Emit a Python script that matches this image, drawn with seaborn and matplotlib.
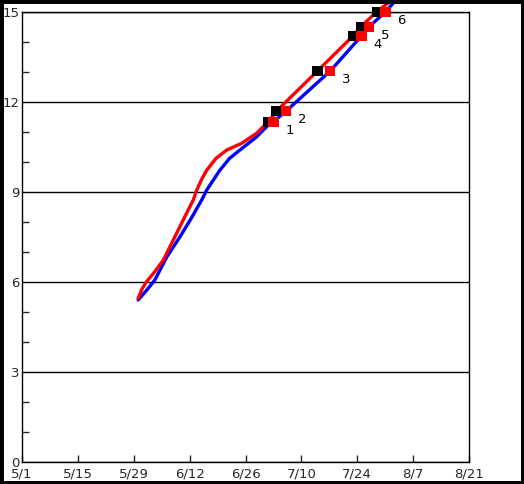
import numpy as np
import pandas as pd
import matplotlib
matplotlib.use("Agg")
import matplotlib.pyplot as plt
import matplotlib.dates as mdates
from matplotlib.patches import Rectangle
import seaborn as sns

# days counted from 5/1
START = pd.Timestamp("2020-05-01")

red_days = [29.1, 30.0, 31.2, 33.3, 35.4, 37.9, 40.4, 42.9, 43.8, 45.0, 46.3, 48.6,
            51.3, 55.0, 58.8, 61.3, 61.7, 63.8, 74.0, 83.0, 84.9, 88.9, 92.7]
red_vals = [5.45, 5.75, 6.01, 6.35, 6.73, 7.40, 8.07, 8.73, 9.07, 9.42, 9.73, 10.12,
            10.40, 10.62, 10.96, 11.29, 11.34, 11.70, 13.03, 14.21, 14.51, 15.01, 15.40]

blue_days = [29.1, 31.2, 33.3, 36.3, 39.6, 42.3, 45.0, 46.3, 49.6, 52.0, 54.6, 58.8, 61.3,
             63.0, 66.2, 77.2, 85.1, 87.0, 91.1, 93.7]
blue_vals = [5.40, 5.72, 6.07, 6.84, 7.51, 8.10, 8.73, 9.07, 9.73, 10.12, 10.40, 10.84, 11.18,
             11.34, 11.70, 13.03, 14.21, 14.51, 15.01, 15.40]

mark_labels = ["1", "2", "3", "4", "5", "6"]
mark_vals = [11.34, 11.70, 13.03, 14.21, 14.51, 15.01]
black_days = [61.7, 63.8, 74.0, 83.0, 84.9, 88.9]
red_mark_days = [63.0, 66.2, 77.2, 85.1, 87.0, 91.1]

x_tick_days = [0, 14, 28, 42, 56, 70, 84, 98, 112]
y_ticks = [0, 3, 6, 9, 12, 15]


def to_dates(days):
    return START + pd.to_timedelta(days, unit="D")


red_df = pd.DataFrame({"date": to_dates(red_days), "value": red_vals})
blue_df = pd.DataFrame({"date": to_dates(blue_days), "value": blue_vals})
black_pts = pd.DataFrame({"date": to_dates(black_days), "value": mark_vals})
red_pts = pd.DataFrame({"date": to_dates(red_mark_days), "value": mark_vals})

sns.set_style("white")
plt.rcParams["font.family"] = ["DejaVu Sans"]

fig = plt.figure(figsize=(5.24, 4.84), dpi=100)
ax = fig.add_axes([22 / 524, 22 / 484, 447 / 524, 450 / 484])

sns.lineplot(data=blue_df, x="date", y="value", ax=ax, color="#0000ff", lw=2.4,
             sort=False, estimator=None, clip_on=False, zorder=3)
sns.lineplot(data=red_df, x="date", y="value", ax=ax, color="#ff0000", lw=2.4,
             sort=False, estimator=None, clip_on=False, zorder=3)
sns.scatterplot(data=black_pts, x="date", y="value", ax=ax, marker="s", s=56,
                color="black", edgecolor="none", zorder=4, clip_on=False)
sns.scatterplot(data=red_pts, x="date", y="value", ax=ax, marker="s", s=56,
                color="#ff0000", edgecolor="none", zorder=5, clip_on=False)

for lab, d, v in zip(mark_labels, red_pts["date"], mark_vals):
    ax.annotate(lab, (d, v), xytext=(11.5, -6), textcoords="offset points",
                ha="center", va="center", fontsize=9.5, color="black")

ax.set_xlim(to_dates(0), to_dates(112))
ax.set_ylim(0, 15)
ax.set_xticks(to_dates(x_tick_days))
ax.xaxis.set_major_formatter(
    plt.FuncFormatter(lambda x, pos: "{}/{}".format(mdates.num2date(x).month,
                                                     mdates.num2date(x).day)))
ax.set_yticks(y_ticks)
ax.set_yticks(np.arange(0, 16, 1), minor=True)
ax.yaxis.grid(True, which="major", color="black", lw=1)
ax.set_axisbelow(True)
ax.tick_params(axis="x", direction="in", length=5, width=1, pad=4, labelsize=9.5,
               bottom=True)
ax.tick_params(axis="y", which="major", direction="in", length=0, pad=2, labelsize=9.5,
               left=True)
ax.tick_params(axis="y", which="minor", direction="in", length=5, width=1, left=True)
for sp in ax.spines.values():
    sp.set_color("black")
    sp.set_linewidth(1)
ax.set_xlabel("")
ax.set_ylabel("")

fig.patches.append(Rectangle((0, 0), 1, 1, transform=fig.transFigure, fill=False,
                             edgecolor="black", lw=5, zorder=10))

fig.savefig("out.png", dpi=100)
